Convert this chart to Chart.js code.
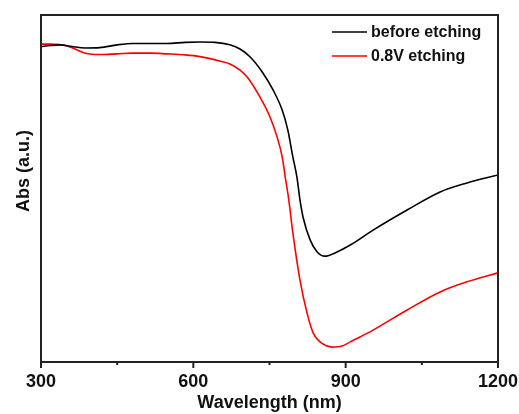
<!DOCTYPE html>
<html>
<head>
<meta charset="utf-8">
<script src="https://cdn.jsdelivr.net/npm/chart.js@4"></script>
<style>
  body { margin: 0; background: #fff; }
  #wrap { width: 519px; height: 414px; }
</style>
</head>
<body>
<div id="wrap"><canvas id="abs" width="519" height="414"></canvas></div>
<script>
// x axis ticks (nm)
const xTicks = [300, 450, 600, 750, 900, 1050, 1200];
const xLabels = [300, 600, 900, 1200];

// before etching
const beforeWl  = [300, 318, 337, 361, 387, 416, 450, 481, 515, 548, 584, 613, 643, 672, 692, 712, 737, 757, 775, 786, 796, 804, 810, 816, 830, 844, 859, 883, 909, 954, 1021, 1086, 1139, 1200];
const beforeAbs = [0.909, 0.912, 0.914, 0.909, 0.905, 0.906, 0.914, 0.918, 0.918, 0.918, 0.921, 0.922, 0.921, 0.914, 0.902, 0.879, 0.833, 0.784, 0.726, 0.669, 0.591, 0.533, 0.467, 0.418, 0.352, 0.317, 0.305, 0.317, 0.337, 0.380, 0.438, 0.490, 0.516, 0.539];

// 0.8V etching
const etchWl  = [300, 318, 337, 357, 373, 387, 416, 450, 481, 515, 548, 584, 613, 653, 672, 692, 706, 731, 751, 765, 775, 781, 788, 796, 810, 824, 836, 855, 873, 893, 909, 928, 954, 1021, 1086, 1139, 1200];
const etchAbs = [0.916, 0.916, 0.915, 0.908, 0.898, 0.890, 0.886, 0.888, 0.890, 0.890, 0.888, 0.885, 0.880, 0.867, 0.859, 0.841, 0.821, 0.764, 0.706, 0.648, 0.591, 0.533, 0.467, 0.372, 0.236, 0.141, 0.084, 0.052, 0.043, 0.046, 0.058, 0.072, 0.092, 0.150, 0.202, 0.231, 0.257];

const FONT = "'Liberation Sans', Arial, sans-serif";

function pts(xs, ys) {
  return xs.map((x, i) => ({ x: x, y: ys[i] }));
}

// frame, outward ticks, y title and legend
const extras = {
  id: 'extras',
  afterDraw(chart) {
    const ctx = chart.ctx;
    const a = chart.chartArea;
    const xs = chart.scales.x;
    ctx.save();
    ctx.strokeStyle = '#222';
    ctx.lineWidth = 2;
    ctx.strokeRect(a.left, a.top, a.right - a.left, a.bottom - a.top);
    xTicks.forEach(v => {
      const px = xs.getPixelForValue(v);
      const len = xLabels.includes(v) ? 6 : 3;
      ctx.beginPath();
      ctx.moveTo(px, a.bottom);
      ctx.lineTo(px, a.bottom + len);
      ctx.stroke();
    });

    // y title
    ctx.fillStyle = '#111';
    ctx.font = 'bold 18px ' + FONT;
    ctx.textAlign = 'center';
    ctx.textBaseline = 'middle';
    ctx.translate(24, 171);
    ctx.rotate(-Math.PI / 2);
    ctx.fillText('Abs (a.u.)', 0, 0);
    ctx.restore();

    // legend
    ctx.save();
    ctx.font = 'bold 16px ' + FONT;
    ctx.textAlign = 'left';
    ctx.textBaseline = 'middle';
    chart.data.datasets.forEach((ds, i) => {
      const y = 32 + i * 24;
      ctx.strokeStyle = ds.borderColor;
      ctx.lineWidth = 1.5;
      ctx.beginPath();
      ctx.moveTo(332, y);
      ctx.lineTo(367, y);
      ctx.stroke();
      ctx.fillStyle = '#111';
      ctx.fillText(ds.label, 371, y + 1);
    });
    ctx.restore();
  }
};

const c = document.querySelector('#abs');
new Chart(c, {
  type: 'line',
  data: {
    datasets: [
      {
        label: 'before etching',
        data: pts(beforeWl, beforeAbs),
        borderColor: '#000000',
        borderWidth: 1.6,
        pointRadius: 0,
        cubicInterpolationMode: 'monotone',
        fill: false
      },
      {
        label: '0.8V etching',
        data: pts(etchWl, etchAbs),
        borderColor: '#ff0000',
        borderWidth: 1.6,
        pointRadius: 0,
        cubicInterpolationMode: 'monotone',
        fill: false
      }
    ]
  },
  options: {
    responsive: false,
    animation: false,
    layout: {
      padding: { left: 41, right: 21, top: 15, bottom: 0 }
    },
    scales: {
      x: {
        type: 'linear',
        min: 300,
        max: 1200,
        afterBuildTicks(scale) {
          scale.ticks = xTicks.map(v => ({ value: v }));
        },
        afterFit(scale) {
          scale.height = 52;
          scale.paddingLeft = 0;
          scale.paddingRight = 0;
        },
        grid: { display: false, drawTicks: false },
        border: { display: false },
        ticks: {
          autoSkip: false,
          maxRotation: 0,
          padding: 9,
          color: '#111',
          font: { family: FONT, size: 18, weight: 'bold' },
          callback: v => xLabels.includes(v) ? String(v) : ''
        },
        title: {
          display: true,
          text: 'Wavelength (nm)',
          color: '#111',
          font: { family: FONT, size: 18, weight: 'bold' },
          padding: { top: 0, bottom: 0 }
        }
      },
      y: {
        display: false,
        min: 0,
        max: 1
      }
    },
    plugins: {
      legend: { display: false },
      tooltip: { enabled: false }
    }
  },
  plugins: [extras]
});
</script>
</body>
</html>
